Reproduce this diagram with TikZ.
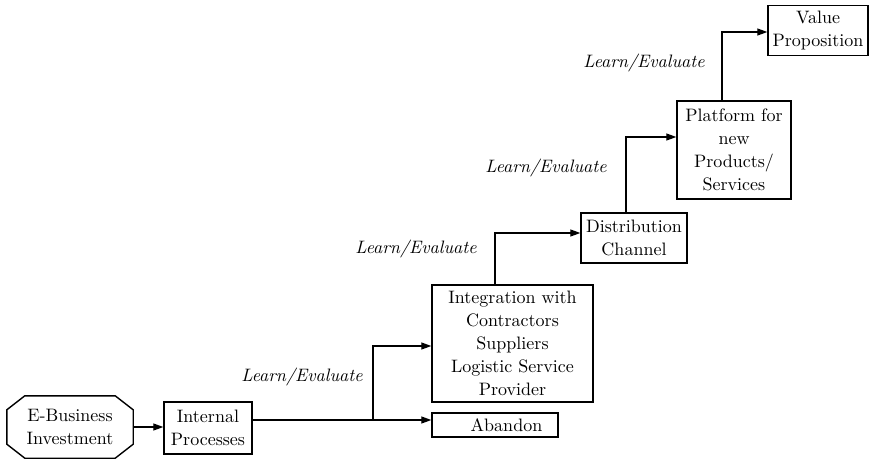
\documentclass[tikz,border=0pt]{standalone}
\usepackage{fontspec}
\setmainfont{lmroman10-regular.otf}[ItalicFont=lmroman10-italic.otf, BoldFont=lmroman10-bold.otf]
\usetikzlibrary{arrows.meta}
\begin{document}
\begin{tikzpicture}[x=1pt,y=-1pt,
  txt/.style={font=\fontsize{18}{23}\selectfont, align=center, inner sep=0pt},
  box/.style={txt, draw, line width=1.4pt},
  lbl/.style={font=\fontsize{18}{23}\selectfont\itshape, inner sep=0pt},
  arr/.style={line width=1.3pt, -{Triangle[length=10pt,width=7pt]}},
  ln/.style={line width=1.3pt}]
\useasboundingbox (0,0) rectangle (871,460);

\node[txt, minimum width=126pt, minimum height=62pt] (ebiz) at (70,427) {E-Business\\Investment};
\draw[line width=1.4pt] ([xshift=18pt]ebiz.north west) -- ([xshift=-18pt]ebiz.north east)
  -- ([yshift=-14pt]ebiz.north east) -- ([yshift=14pt]ebiz.south east)
  -- ([xshift=-18pt]ebiz.south east) -- ([xshift=18pt]ebiz.south west)
  -- ([yshift=14pt]ebiz.south west) -- ([yshift=-14pt]ebiz.north west) -- cycle;

\node[box, minimum width=88pt, minimum height=52pt] (internal) at (208,428) {Internal\\Processes};
\node[box, minimum width=126pt, minimum height=24pt] (abandon) at (495,425) {\hspace{23pt}Abandon};
\node[box, minimum width=161pt, minimum height=117pt] (integ) at (512.5,343.5) {Integration with\\Contractors\\Suppliers\\Logistic Service\\Provider};
\node[box, minimum width=106pt, minimum height=50pt] (dist) at (634,238) {Distribution\\Channel};
\node[box, minimum width=114pt, minimum height=98pt] (plat) at (734,150) {Platform for\\new\\Products/\\Services};
\node[box, minimum width=100pt, minimum height=50pt] (value) at (818,30.5) {Value\\Proposition};

\coordinate (br) at (373,420);
\draw[arr] (ebiz.east) -- (ebiz.east -| internal.west);
\draw[ln] (internal.east |- br) -- (br);
\draw[arr] (br) -- (br -| abandon.west);
\draw[arr] (br) |- (integ.west |- 0,346);
\draw[arr] (integ.north -| 495,0) |- (dist.west |- 0,233);
\draw[arr] (dist.north -| 626,0) |- (plat.west |- 0,137);
\draw[arr] (plat.north -| 722,0) |- (value.west |- 0,32);

\node[lbl] (l1) at (302,377) {Learn/Evaluate};
\node[lbl] (l2) at (416,249) {Learn/Evaluate};
\node[lbl] (l3) at (546,168) {Learn/Evaluate};
\node[lbl] (l4) at (644,63) {Learn/Evaluate};
\end{tikzpicture}
\end{document}
